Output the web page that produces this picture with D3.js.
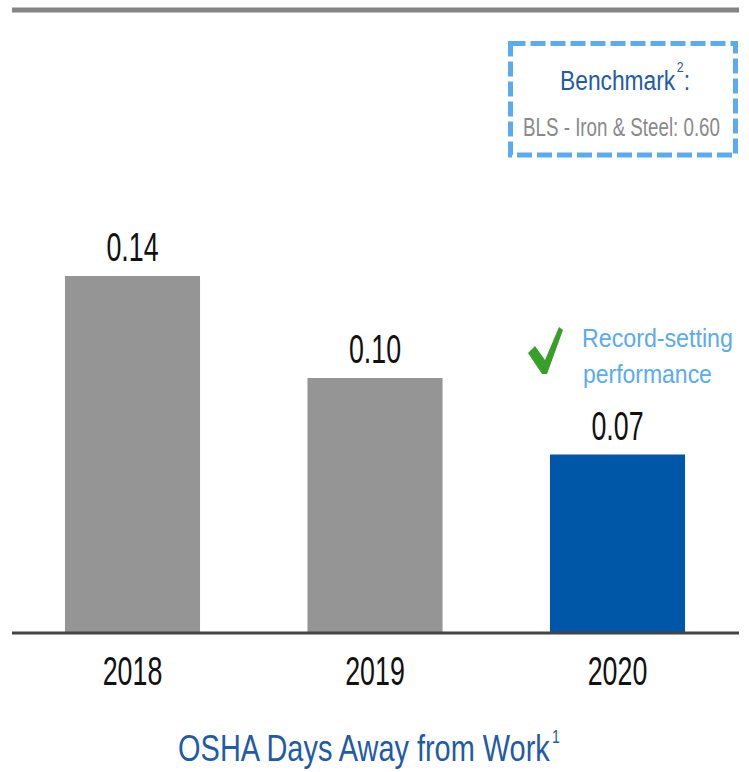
<!DOCTYPE html>
<html><head><meta charset="utf-8">
<script src="https://cdn.jsdelivr.net/npm/d3@7"></script>
<style>html,body{margin:0;padding:0;background:#fff;}svg{display:block;}</style>
</head><body>
<svg id="chart" width="749" height="772"></svg>
<script>
const years = ["2018", "2019", "2020"];
const values = [0.14, 0.10, 0.07];
const valueLabels = ["0.14", "0.10", "0.07"];
const highlightYear = "2020";
const titleText = "OSHA Days Away from Work";
const titleNote = "1";
const benchTitle = "Benchmark";
const benchNote = "2";
const benchText = "BLS - Iron & Steel: 0.60";
const calloutLines = ["Record-setting", "performance"];

const svg = d3.select("#chart");
const font = "'Liberation Sans', Arial, sans-serif";

const x = d3.scaleBand().domain(years).range([11.25, 738.75]).paddingInner(0.443).paddingOuter(0.2215);
const y = d3.scaleLinear().domain([0, 0.14]).range([633, 276]);

function fitText(g, cx, by, targetW) {
  const w = g.node().getBBox().width;
  g.attr("transform", `translate(${cx},${by}) scale(${targetW / w},1)`);
}

// top rule
svg.append("line").attr("x1", 12).attr("x2", 739).attr("y1", 10).attr("y2", 10)
  .attr("stroke", "#858585").attr("stroke-width", 5);

// bars
svg.selectAll("rect.bar").data(years).join("rect").attr("class", "bar")
  .attr("x", d => x(d)).attr("width", x.bandwidth())
  .attr("y", (d, i) => y(values[i])).attr("height", (d, i) => y(0) - y(values[i]))
  .attr("fill", d => d === highlightYear ? "#0057a8" : "#959595");

// baseline axis
const axis = d3.axisBottom(x).tickSize(0).tickPadding(0);
const ag = svg.append("g").attr("transform", `translate(0,${y(0)})`).call(axis);
ag.select(".domain").attr("d", "M12,0H739").attr("stroke", "#444").attr("stroke-width", 3);
ag.selectAll(".tick text").remove();
years.forEach(yr => {
  const t = svg.append("text").attr("text-anchor", "middle").attr("font-family", font)
    .attr("font-size", 40).attr("fill", "#111").text(yr);
  t.attr("transform", `translate(${x(yr) + x.bandwidth() / 2},685) scale(0.67,1)`);
});

// value labels
years.forEach((yr, i) => {
  svg.append("text").attr("text-anchor", "middle").attr("font-family", font)
    .attr("font-size", 40).attr("fill", "#111").text(valueLabels[i])
    .attr("transform", `translate(${x(yr) + x.bandwidth() / 2},${y(values[i]) - 15}) scale(0.67,1)`);
});

// title
const tt = svg.append("text").attr("text-anchor", "middle").attr("font-family", font)
  .attr("font-size", 37).attr("fill", "#1f5ba6");
tt.append("tspan").text(titleText);
tt.append("tspan").attr("dx", 3).attr("dy", -18).attr("font-size", 18).text(titleNote);
fitText(tt, 369, 761, 382);

// benchmark box
svg.append("rect").attr("x", 510.5).attr("y", 43.5).attr("width", 225).attr("height", 111.5)
  .attr("fill", "none").attr("stroke", "#5aabf0").attr("stroke-width", 5)
  .attr("stroke-dasharray", "15,5");
const bt = svg.append("text").attr("text-anchor", "middle").attr("font-family", font)
  .attr("font-size", 28).attr("fill", "#1f5ba6");
bt.append("tspan").text(benchTitle);
bt.append("tspan").attr("dx", 2).attr("dy", -18).attr("font-size", 15).text(benchNote);
bt.append("tspan").attr("dy", 18).text(":");
fitText(bt, 625, 90, 130);
const bl = svg.append("text").attr("text-anchor", "middle").attr("font-family", font)
  .attr("font-size", 26).attr("fill", "#8a8a8a").text(benchText);
fitText(bl, 621.5, 136, 197);

// callout
svg.append("path")
  .attr("d", "M528,353 L535,346 L545,360 L559,327 L563,330 L547,374 L542,374 Z")
  .attr("fill", "#3a9e2a");
const c1 = svg.append("text").attr("text-anchor", "start").attr("font-family", font)
  .attr("font-size", 26).attr("fill", "#5aabf0").text(calloutLines[0]);
c1.attr("transform", `translate(582,347) scale(${151 / c1.node().getBBox().width},1)`);
const c2 = svg.append("text").attr("text-anchor", "start").attr("font-family", font)
  .attr("font-size", 26).attr("fill", "#5aabf0").text(calloutLines[1]);
c2.attr("transform", `translate(583,383) scale(${129 / c2.node().getBBox().width},1)`);
</script>
</body></html>
